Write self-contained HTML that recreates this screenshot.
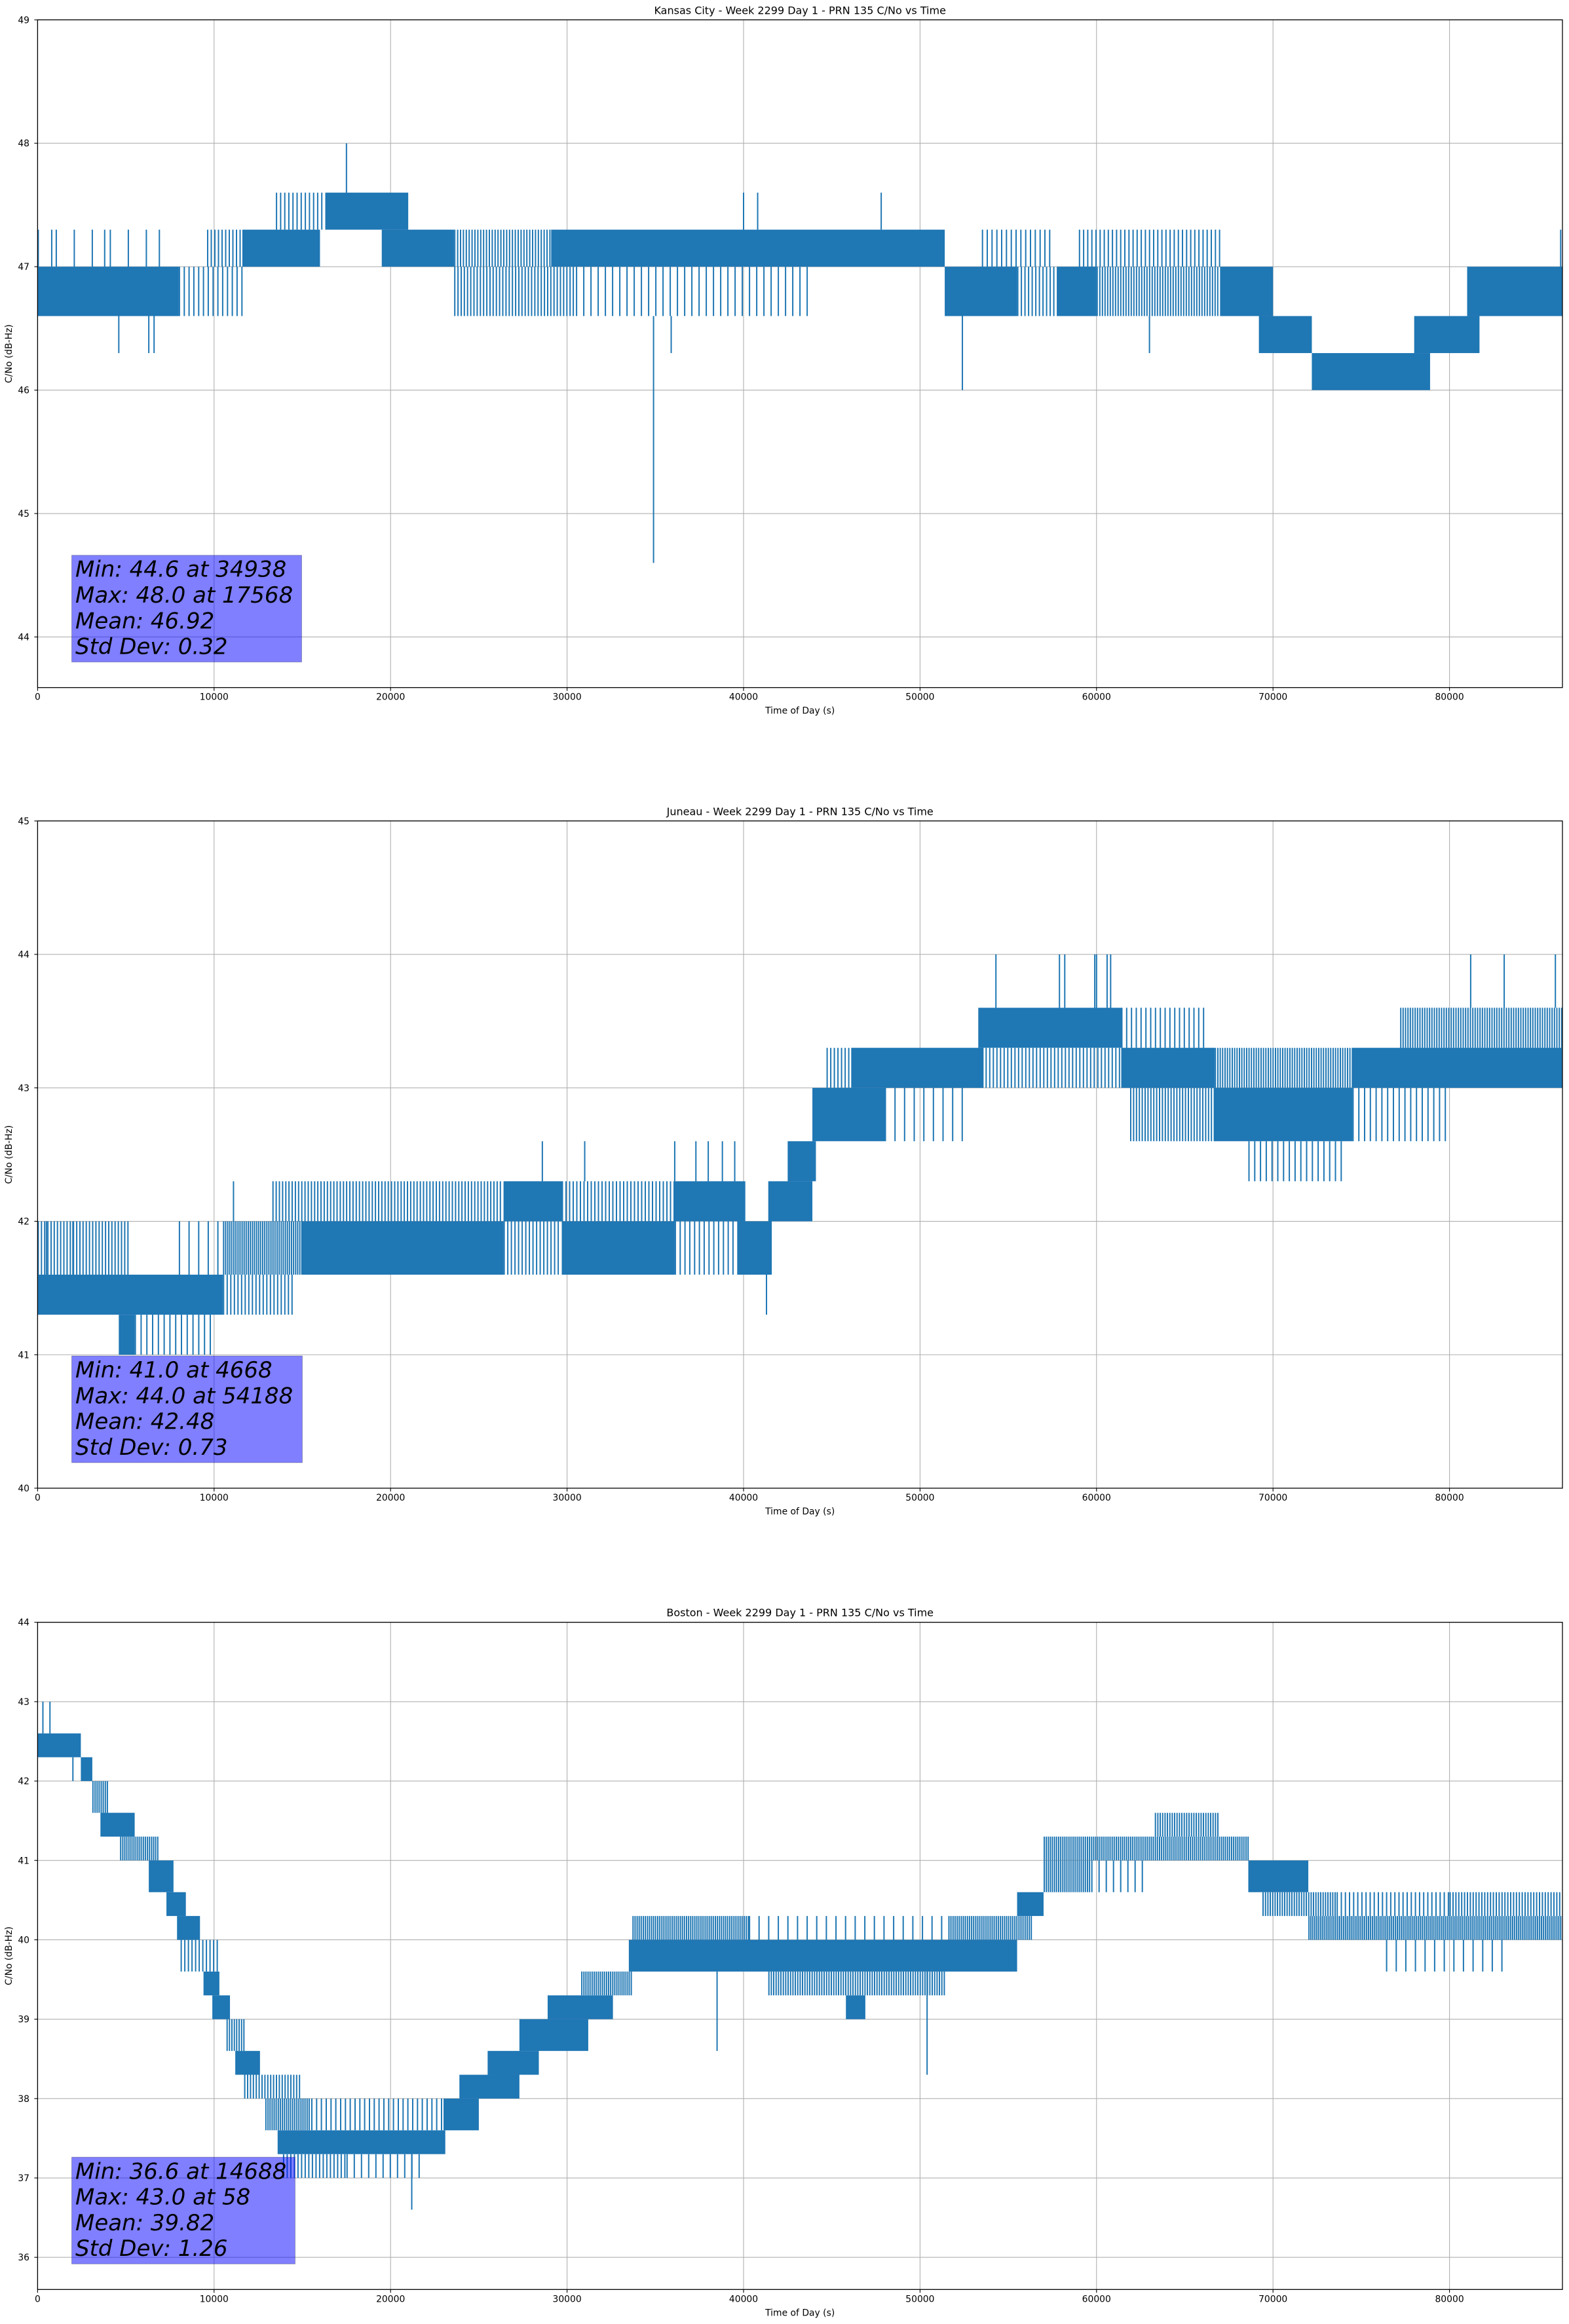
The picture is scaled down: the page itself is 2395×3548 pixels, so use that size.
<!DOCTYPE html>
<html><head><meta charset="utf-8"><style>
html,body{margin:0;padding:0;background:#fff;}
svg{display:block;font-family:"DejaVu Sans","Liberation Sans",sans-serif;}
</style></head><body>
<svg id="fig" width="2395" height="3548" viewBox="0 0 2395 3548" xmlns="http://www.w3.org/2000/svg"></svg>
<script>
// ---------- data ----------
const xTicks = [0,10000,20000,30000,40000,50000,60000,70000,80000];
const titles = ["Kansas City - Week 2299 Day 1 - PRN 135 C/No vs Time","Juneau - Week 2299 Day 1 - PRN 135 C/No vs Time","Boston - Week 2299 Day 1 - PRN 135 C/No vs Time"];
const yTicks1 = [44,45,46,47,48,49];
const yTicks2 = [40,41,42,43,44,45];
const yTicks3 = [36,37,38,39,40,41,42,43,44];
const stats1 = ["Min: 44.6 at 34938","Max: 48.0 at 17568","Mean: 46.92","Std Dev: 0.32"];
const stats2 = ["Min: 41.0 at 4668","Max: 44.0 at 54188","Mean: 42.48","Std Dev: 0.73"];
const stats3 = ["Min: 36.6 at 14688","Max: 43.0 at 58","Mean: 39.82","Std Dev: 1.26"];

// Kansas City bands: [tStart, tEnd, low, high, density]
const kcBands = [
[0,8000,46.6,47.0,0.9],[8000,11600,46.6,47.0,0.3],[9600,11600,47.0,47.3,0.4],[11600,16000,47.0,47.3,0.8],
[13500,16300,47.3,47.6,0.35],[16300,21000,47.3,47.6,0.9],[19500,23600,47.0,47.3,0.85],[23600,29100,47.0,47.3,0.5],
[23600,30500,46.6,47.0,0.45],[29100,51400,47.0,47.3,0.85],[30500,44000,46.6,47.0,0.2],[51400,55500,46.6,47.0,0.85],
[53500,57500,47.0,47.3,0.3],[55500,57800,46.6,47.0,0.4],[57800,60000,46.6,47.0,0.9],[60000,67000,46.6,47.0,0.55],
[59000,67000,47.0,47.3,0.35],[67000,70000,46.6,47.0,0.85],[69200,72200,46.3,46.6,0.85],[72200,78900,46.0,46.3,0.9],
[78000,81700,46.3,46.6,0.9],[81000,86400,46.6,47.0,0.9],[0,7000,47.0,47.3,0.08]];
// Kansas City spikes: [t, low, high]
const kcSpikes = [[17500,47.6,48.0],[34900,44.6,46.6],[35900,46.3,46.6],[4600,46.3,46.6],[6300,46.3,46.6],[6600,46.3,46.6],
[52400,46.0,46.6],[63000,46.3,46.6],[40000,47.3,47.6],[40800,47.3,47.6],[47800,47.3,47.6],[86300,47.0,47.3],
[800,47.0,47.3],[3800,47.0,47.3],[6900,47.0,47.3]];

const juBands = [
[0,10500,41.3,41.6,0.9],[0,5200,41.6,42.0,0.45],[8000,10500,41.6,42.0,0.15],[4600,5500,41.0,41.3,0.9],
[5500,10000,41.0,41.3,0.25],[10500,15000,41.6,42.0,0.7],[15000,26400,41.6,42.0,0.85],[10500,14600,41.3,41.6,0.4],
[13300,26400,42.0,42.3,0.45],[26400,29700,42.0,42.3,0.85],[26400,29700,41.6,42.0,0.4],[29700,36100,41.6,42.0,0.85],
[29700,36100,42.0,42.3,0.4],[36100,40100,42.0,42.3,0.8],[36100,39700,41.6,42.0,0.3],[39700,41600,41.6,42.0,0.9],
[41400,43900,42.0,42.3,0.85],[42500,44100,42.3,42.6,0.85],[43900,48000,42.6,43.0,0.9],[44700,46100,43.0,43.3,0.4],
[46100,53600,43.0,43.3,0.9],[48000,52500,42.6,43.0,0.15],[53300,61400,43.3,43.6,0.9],[53300,61400,43.0,43.3,0.4],
[61400,66100,43.3,43.6,0.3],[61400,66700,43.0,43.3,0.85],[61900,66700,42.6,43.0,0.5],[66700,74500,42.6,43.0,0.9],
[66700,74500,43.0,43.3,0.6],[68600,74000,42.3,42.6,0.25],[74500,86400,43.0,43.3,0.9],[77200,86400,43.3,43.6,0.6],
[74500,79800,42.6,43.0,0.25]];
const juSpikes = [[54300,43.6,44.0],[57900,43.6,44.0],[58200,43.6,44.0],[59900,43.6,44.0],[60000,43.6,44.0],
[60600,43.6,44.0],[60800,43.6,44.0],[81200,43.6,44.0],[83100,43.6,44.0],[86000,43.6,44.0],[11100,42.0,42.3],
[28600,42.3,42.6],[31000,42.3,42.6],[36100,42.3,42.6],[37300,42.3,42.6],[38000,42.3,42.6],[38800,42.3,42.6],
[39500,42.3,42.6],[41300,41.3,41.6],[500,41.6,42.0],[2000,41.6,42.0]];

const boBands = [
[0,2450,42.3,42.6,0.95],[2450,3100,42.0,42.3,0.9],[3100,4000,41.6,42.0,0.7],[3560,5500,41.3,41.6,0.8],
[4670,6900,41.0,41.3,0.7],[6300,7700,40.6,41.0,0.9],[7300,8400,40.3,40.6,0.9],[7900,9200,40.0,40.3,0.8],
[8100,10200,39.6,40.0,0.4],[9400,10300,39.3,39.6,0.9],[9900,10900,39.0,39.3,0.9],[10700,11800,38.6,39.0,0.6],
[11200,12600,38.3,38.6,0.9],[11700,15000,38.0,38.3,0.5],[12900,15500,37.6,38.0,0.7],[13600,23100,37.3,37.6,0.9],
[13900,17500,37.0,37.3,0.4],[17500,22000,37.0,37.3,0.2],[15500,23000,37.6,38.0,0.3],[23000,25000,37.6,38.0,0.9],
[23900,27300,38.0,38.3,0.8],[25500,28400,38.3,38.6,0.9],[27300,31200,38.6,39.0,0.8],[28900,32600,39.0,39.3,0.8],
[30800,33700,39.3,39.6,0.7],[33500,55500,39.6,40.0,0.8],[41400,51400,39.3,39.6,0.6],[45800,46900,39.0,39.3,0.8],
[33700,40300,40.0,40.3,0.7],[40300,51600,40.0,40.3,0.15],[51600,56400,40.0,40.3,0.7],[55500,57000,40.3,40.6,0.9],
[57000,59700,40.6,41.0,0.7],[57000,68600,41.0,41.3,0.7],[59700,63000,40.6,41.0,0.2],[63300,66900,41.3,41.6,0.6],
[68600,72000,40.6,41.0,0.9],[69400,73600,40.3,40.6,0.6],[72000,86400,40.0,40.3,0.75],[73600,80000,40.3,40.6,0.35],
[80000,86400,40.3,40.6,0.5],[76400,83000,39.6,40.0,0.15]];
const boSpikes = [[300,42.6,43.0],[700,42.6,43.0],[21200,36.6,37.3],[38500,38.6,39.6],[50400,38.3,39.6],[2000,42.0,42.3]];

// ---------- drawing ----------
const NS = "http://www.w3.org/2000/svg";
const svg = document.getElementById('fig');
const X0 = 57.4, X1 = 2385, TMAX = 86400, COLOR = "#1f77b4";
function mk(tag, attrs, parent){ const e=document.createElementNS(NS,tag); for(const k in attrs) e.setAttribute(k,attrs[k]); (parent||svg).appendChild(e); return e; }
function xs(t){ return X0 + (t/TMAX)*(X1-X0); }

function panel(idx, top, bottom, yMin, yMax, yTicks, bands, spikes, stats, boxW){
  const g = mk('g',{});
  
  
  const ys = v => bottom - (v-yMin)/(yMax-yMin)*(bottom-top);
  const cid='clip'+idx;
  const cp = mk('clipPath',{id:cid},g); mk('rect',{x:X0,y:top,width:X1-X0,height:bottom-top},cp);
  xTicks.forEach(t=>{ const l=mk('line',{x1:xs(t),x2:xs(t),y1:top,y2:bottom,stroke:'#b0b0b0','stroke-width':1.1},g);
      });
  yTicks.forEach(v=>{ if(v<yMin||v>yMax) return; const l=mk('line',{x1:X0,x2:X1,y1:ys(v),y2:ys(v),stroke:'#b0b0b0','stroke-width':1.1},g);
      });
  const dg = mk('g',{'clip-path':'url(#'+cid+')'},g);
   
  bands.forEach(b=>{
    const xa=xs(b[0]), xb=xs(b[1]), ya=ys(b[3]), yb=ys(b[2]);
    if(b[4]>=0.8){
      const r=mk('rect',{x:xa,y:ya,width:Math.max(1,xb-xa),height:yb-ya,fill:COLOR},dg);
       
    } else {
      const bg=mk('g',{},dg);
       
      const step=2.2/b[4];
      let d='';
      for(let x=xa+1; x<xb; x+=step){ d+='M'+x.toFixed(1)+' '+ya.toFixed(1)+'V'+yb.toFixed(1); }
      mk('path',{d:d,stroke:COLOR,'stroke-width':2,fill:'none'},bg);
    }
  });
  spikes.forEach(s=>{ const l=mk('line',{x1:xs(s[0]),x2:xs(s[0]),y1:ys(s[1]),y2:ys(s[2]),stroke:COLOR,'stroke-width':2},dg);
      });
  const by = bottom-202;
  const sb = mk('g',{},g);  
  mk('rect',{x:109.5,y:by,width:boxW,height:163,fill:'#0000ff','fill-opacity':0.5,stroke:'#000','stroke-opacity':0.25,'stroke-width':1},sb);
  stats.forEach((s,i)=>{ const t=mk('text',{x:115,y:by+33+i*39.3,'font-size':34,'font-style':'italic',fill:'#000'},sb); t.textContent=s;
      });
  const sp=mk('rect',{x:X0,y:top,width:X1-X0,height:bottom-top,fill:'none',stroke:'#000','stroke-width':1.3},g);
   
  xTicks.forEach(t=>{ mk('line',{x1:xs(t),x2:xs(t),y1:bottom,y2:bottom+5,stroke:'#000','stroke-width':1.1},g);
    const tx=mk('text',{x:xs(t),y:bottom+19,'font-size':13.9,'text-anchor':'middle',fill:'#000'},g); tx.textContent=t;
      });
  yTicks.forEach(v=>{ if(v<yMin||v>yMax) return; mk('line',{x1:X0-5,x2:X0,y1:ys(v),y2:ys(v),stroke:'#000','stroke-width':1.1},g);
    const tx=mk('text',{x:45,y:ys(v)+5,'font-size':13.9,'text-anchor':'end',fill:'#000'},g); tx.textContent=v;
      });
  const xl=mk('text',{x:(X0+X1)/2,y:bottom+40,'font-size':13.9,'text-anchor':'middle'},g); xl.textContent='Time of Day (s)';
   
  const cy=(top+bottom)/2;
  const yl=mk('text',{x:18,y:cy,'font-size':13.9,'text-anchor':'middle',transform:'rotate(-90 18 '+cy+')'},g); yl.textContent='C/No (dB-Hz)';
   
  const ti=mk('text',{x:(X0+X1)/2,y:top-9,'font-size':16,'text-anchor':'middle'},g); ti.textContent=titles[idx];
   
}
panel(0, 30.3, 1049.7, 43.59, 49, yTicks1, kcBands, kcSpikes, stats1, 351);
panel(1, 1253.3, 2272, 40, 45, yTicks2, juBands, juSpikes, stats2, 352);
panel(2, 2476.7, 3495.3, 35.595, 44, yTicks3, boBands, boSpikes, stats3, 341);
</script>
</body></html>
